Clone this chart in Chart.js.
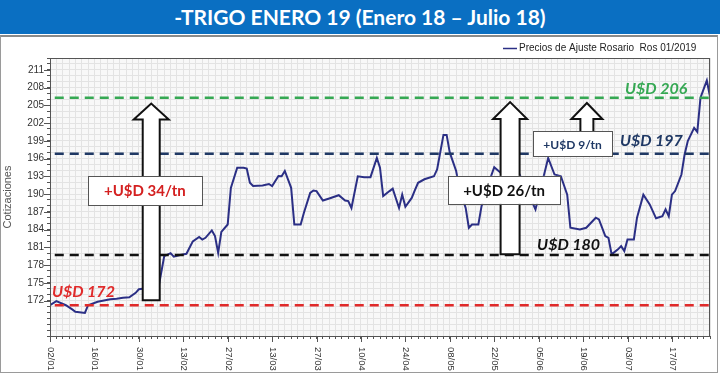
<!DOCTYPE html>
<html><head><meta charset="utf-8">
<script src="https://cdn.jsdelivr.net/npm/chart.js@4.4.1/dist/chart.umd.min.js"></script>
<style>
html,body{margin:0;padding:0;background:#fff;width:720px;height:374px;overflow:hidden}
#banner{position:absolute;left:0;top:0;width:720px;height:34px;background:#0a6fc2;color:#fff;font:bold 21px Lato, sans-serif;text-align:center;line-height:34px;}
#frame{position:absolute;left:0;top:35px;width:716px;height:335px;border:1px solid #9a9a9a;border-top:2px solid #8a8a8a;}
canvas{display:block}
</style></head><body>
<div id="banner">-TRIGO ENERO 19 (Enero 18 – Julio 18)</div>
<div id="frame"><canvas id="c" width="716" height="335"></canvas></div>
<script>
const seriesName = 'Precios de Ajuste Rosario  Ros 01/2019';
const xTickLabels = ['02/01','16/01','30/01','13/02','27/02','13/03','27/03','10/04','24/04','08/05','22/05','05/06','19/06','03/07','17/07'];
const yTickLabels = [172,175,178,181,184,187,190,193,196,199,202,205,208,211];
const dates = ['02/01','04/01','07/01','09/01','10/01','13/01','14/01','17/01','19/01','21/01','23/01','25/01','27/01','29/01','30/01',
 '02/02','05/02','07/02','09/02','10/02','12/02','14/02','16/02','18/02','19/02','20/02','22/02','23/02','24/02','25/02','27/02','28/02',
 '02/03','04/03','05/03','06/03','07/03','10/03','12/03','13/03','15/03','16/03','17/03','19/03','20/03','22/03','23/03','25/03','26/03','27/03','29/03','31/03',
 '03/04','05/04','06/04','07/04','09/04','11/04','13/04','15/04','16/04','17/04','19/04','20/04','22/04','23/04','24/04','26/04','27/04','28/04','30/04',
 '03/05','04/05','06/05','07/05','08/05','10/05','11/05','13/05','14/05','15/05','17/05','18/05','20/05','22/05','24/05','27/05','30/05',
 '01/06','04/06','08/06','10/06','12/06','14/06','15/06','18/06','20/06','23/06','24/06','26/06','27/06','28/06','30/06',
 '01/07','02/07','03/07','05/07','06/07','08/07','10/07','12/07','14/07','15/07','16/07','17/07','18/07','20/07','21/07','22/07','24/07','25/07','26/07','28/07','29/07'];
const prices = [171.2,171.9,171.2,170.5,170.1,169.9,171.2,171.8,172.0,172.2,172.3,172.45,172.55,173.3,173.9,
 174.1,173.6,179.5,180.0,179.4,179.7,179.9,182.0,182.75,182.3,182.6,183.85,182.9,180.05,183.6,184.85,191.05,
 194.45,194.45,194.3,191.9,191.35,191.45,191.7,191.35,193.05,193.0,193.9,191.05,184.85,184.85,186.8,190.2,190.6,190.5,188.9,189.25,
 189.8,188.9,188.8,187.65,193.0,192.85,192.85,196.1,194.45,189.65,190.5,190.9,187.65,189.9,187.85,189.35,190.65,191.9,192.5,
 193.0,194.15,200.0,200.0,197.0,193.9,191.0,187.65,184.3,184.85,184.85,187.95,191.5,194.55,193.6,193.0,193.3,
 191.0,187.4,196.1,193.3,193.0,189.9,184.3,184.0,184.3,186.0,185.7,182.9,182.6,179.8,180.65,
 181.2,180.35,182.3,182.3,186.0,189.9,188.25,185.9,186.25,187.4,186.25,189.9,190.5,193.3,196.7,198.95,201.2,200.5,206.3,209.2,206.5];
const refLevels = [171.2, 179.7, 196.8, 206.3];
const refNames = ['U$D 172','U$D 180','U$D 197','U$D 206'];
const gainLabels = ['+U$D 34/tn','+U$D 26/tn','+U$D 9/tn'];

function dayOf(s){const p=s.split('/').map(Number);return Math.round((Date.UTC(2018,p[1]-1,p[0])-Date.UTC(2018,0,2))/864e5);}
const X_MAX = 208;

/* annotation placement (data units) and styles */
const refStyle = [
 {color:'#e02a2a', lx:0.6, ly:173.5, start:1.5},
 {color:'#111111', lx:153.5, ly:181.4, start:1.5},
 {color:'#1f3864', lx:179.6, ly:199.0, start:1.5},
 {color:'#35a853', lx:181.2, ly:207.8, start:1.5}
];
const arrowCfg = [
 {x:31.9, from:172.05, to:205.3, shaft:17, head:35, headLen:16},
 {x:145, from:179.8, to:205.55, shaft:19, head:34, headLen:17},
 {x:169.2, from:197, to:205.4, shaft:13, head:31, headLen:16}
];
const boxCfg = [
 {x:29.9, y:190.6, w:114, h:29, color:'#d42020', size:15},
 {x:143.1, y:190.7, w:112, h:28, color:'#111111', size:15},
 {x:164.7, y:198.5, w:79, h:25, color:'#1f3864', size:12}
];

const mainData = dates.map((d,i)=>({x:dayOf(d), y:prices[i]}));
const datasets = [{
  label: seriesName, data: mainData, borderColor:'#2b2f85', borderWidth:2,
  pointRadius:0, tension:0, order:2
}];
refLevels.forEach((v,i)=>{
  datasets.push({label:refNames[i], data:[{x:refStyle[i].start,y:v},{x:X_MAX,y:v}],
    borderColor:refStyle[i].color, borderWidth:2.5, borderDash:[9,6], pointRadius:0, order:1});
});

const FONT = '"Liberation Sans", Arial, sans-serif';
const annot = {
  id:'annot',
  beforeDraw(chart){
    const {ctx, chartArea:a} = chart;
    ctx.save(); ctx.fillStyle='#f8f8f8'; ctx.fillRect(a.left,a.top,a.right-a.left,a.bottom-a.top); ctx.restore();
  },
  afterDatasetsDraw(chart){
    const {ctx, chartArea:a, scales:{x,y}} = chart;
    ctx.save();
    refLevels.forEach((v,i)=>{
      const s = refStyle[i];
      ctx.font = 'italic bold 16px Lato, sans-serif';
      ctx.fillStyle = s.color; ctx.textAlign='left'; ctx.textBaseline='middle';
      ctx.fillText(refNames[i], x.getPixelForValue(s.lx), y.getPixelForValue(s.ly));
    });
    arrowCfg.forEach(ar=>{
      const cx = x.getPixelForValue(ar.x), yb = y.getPixelForValue(ar.from), yt = y.getPixelForValue(ar.to);
      const yh = yt + ar.headLen;
      ctx.beginPath();
      ctx.moveTo(cx-ar.shaft/2, yb); ctx.lineTo(cx-ar.shaft/2, yh); ctx.lineTo(cx-ar.head/2, yh);
      ctx.lineTo(cx, yt); ctx.lineTo(cx+ar.head/2, yh); ctx.lineTo(cx+ar.shaft/2, yh); ctx.lineTo(cx+ar.shaft/2, yb);
      ctx.closePath();
      ctx.fillStyle='#ffffff'; ctx.fill(); ctx.lineWidth=2; ctx.strokeStyle='#111'; ctx.lineJoin='miter'; ctx.stroke();
    });
    boxCfg.forEach((b,i)=>{
      const cx = x.getPixelForValue(b.x), cy = y.getPixelForValue(b.y);
      ctx.fillStyle='#ffffff'; ctx.fillRect(cx-b.w/2, cy-b.h/2, b.w, b.h);
      ctx.lineWidth=1; ctx.strokeStyle='#555'; ctx.strokeRect(Math.round(cx-b.w/2)+0.5, Math.round(cy-b.h/2)+0.5, b.w, b.h);
      ctx.font = 'bold '+b.size+'px Lato, sans-serif'; ctx.fillStyle=b.color; ctx.textAlign='center'; ctx.textBaseline='middle';
      ctx.fillText(gainLabels[i], cx, cy+1);
    });
    ctx.restore();
  },
  afterDraw(chart){
    const {ctx, chartArea:a, scales:{x,y}} = chart;
    ctx.save();
    ctx.strokeStyle='#555'; ctx.lineWidth=1;
    ctx.strokeRect(a.left+0.5, a.top+0.5, a.right-a.left-1, a.bottom-a.top);
    ctx.font = '9.5px '+FONT; ctx.fillStyle='#333'; ctx.textAlign='left'; ctx.textBaseline='middle';
    xTickLabels.forEach(l=>{
      const px = Math.round(x.getPixelForValue(dayOf(l)))+0.5;
      ctx.beginPath(); ctx.moveTo(px, a.bottom); ctx.lineTo(px, a.bottom+6); ctx.stroke();
      ctx.save(); ctx.translate(px, a.bottom+11); ctx.rotate(Math.PI/2); ctx.fillText(l,0,0); ctx.restore();
    });
    yTickLabels.forEach(v=>{
      const py = Math.round(y.getPixelForValue(v))+0.5;
      ctx.beginPath(); ctx.moveTo(a.left-6, py); ctx.lineTo(a.left, py); ctx.stroke();
    });
    ctx.strokeStyle='#2b2f85'; ctx.lineWidth=1.5;
    ctx.beginPath(); ctx.moveTo(502, 11.5); ctx.lineTo(516, 11.5); ctx.stroke();
    ctx.font='10px '+FONT; ctx.fillStyle='#222'; ctx.textAlign='left'; ctx.textBaseline='middle';
    ctx.fillText(seriesName, 518, 11.5);
    ctx.restore();
  }
};

new Chart(document.getElementById('c'), {
  type:'line',
  data:{datasets},
  options:{
    responsive:false, animation:false, devicePixelRatio:1,
    layout:{padding:{top:21, right:7, bottom:33, left:0}},
    plugins:{legend:{display:false}, tooltip:{enabled:false}},
    scales:{
      x:{type:'linear', min:0, max:X_MAX,
        afterBuildTicks(s){const t=[];for(let d=0; d<=X_MAX; d+=2) t.push({value:d}); s.ticks=t;},
        ticks:{display:false},
        grid:{color:'#e3e3e3', lineWidth:1, tickLength:3, tickColor:'#555', drawTicks:true},
        border:{display:true, color:'#555'}
      },
      y:{type:'linear', min:166, max:213,
        afterBuildTicks(s){const t=[];for(let v=166; v<=213; v++) t.push({value:v}); s.ticks=t;},
        afterFit(s){s.width=49;},
        ticks:{autoSkip:false, padding:3, color:'#333', font:{family:FONT, size:10},
          callback:(v)=> yTickLabels.includes(v) ? String(v) : ''},
        grid:{color:'#e3e3e3', lineWidth:1, tickLength:3, tickColor:'#555'},
        border:{display:true, color:'#555'},
        title:{display:true, text:'Cotizaciones', color:'#555', font:{family:FONT, size:11}, padding:{top:0,bottom:2}}
      }
    }
  },
  plugins:[annot]
});
</script>
</body></html>
